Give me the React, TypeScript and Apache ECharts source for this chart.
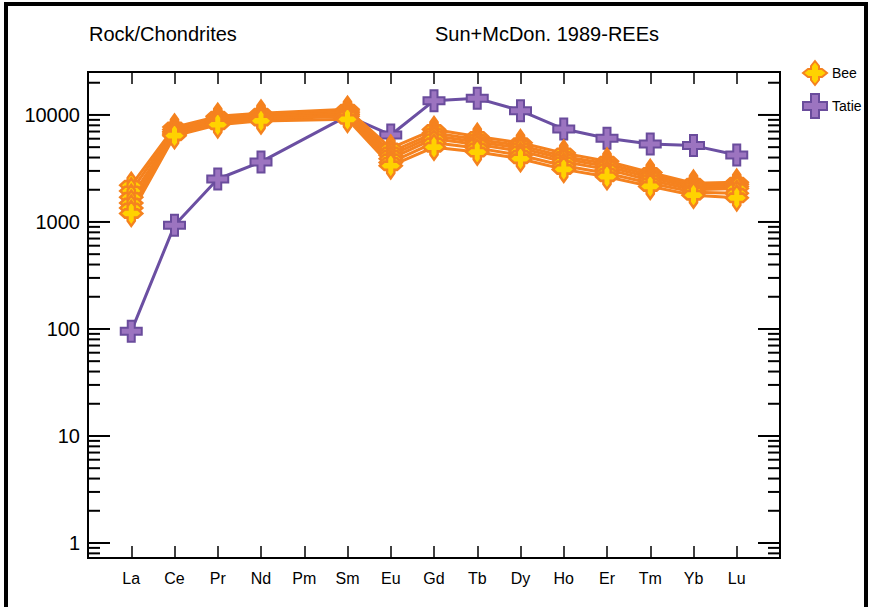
import React, { useEffect, useRef } from "react";
import * as echarts from "echarts";

const categories = ["La", "Ce", "Pr", "Nd", "Pm", "Sm", "Eu", "Gd", "Tb", "Dy", "Ho", "Er", "Tm", "Yb", "Lu"];

const tatie = [95, 930, 2520, 3640, null, 9800, 6500, 13600, 14300, 10970, 7390, 6050, 5350, 5170, 4230];

const bee1 = [2200, 7700, 9700, 10400, null, 11300, 4900, 7300, 6300, 5500, 4400, 3700, 2900, 2300, 2350];
const bee2 = [1950, 7300, 9300, 10000, null, 10900, 4500, 6800, 5900, 5200, 4100, 3500, 2750, 2200, 2250];
const bee3 = [1700, 7000, 9000, 9700, null, 10500, 4200, 6400, 5600, 4900, 3900, 3300, 2600, 2100, 2150];
const bee4 = [1500, 6800, 8700, 9400, null, 10100, 3900, 6000, 5300, 4600, 3650, 3100, 2450, 2000, 2050];
const bee5 = [1350, 6600, 8400, 9100, null, 9700, 3600, 5500, 4900, 4200, 3350, 2850, 2300, 1900, 1850];
const bee6 = [1200, 6400, 8100, 8800, null, 9100, 3350, 5000, 4500, 3900, 3100, 2650, 2150, 1780, 1680];
const beeSamples = [bee1, bee2, bee3, bee4, bee5, bee6];

const yMin = 0.724;
const yMax = 25200;

const BEE_PATH = "path://M12 0 L16 5 L16 8 L19 8 L24 12 L19 16 L16 16 L16 19 L12 24 L8 19 L8 16 L5 16 L0 12 L5 8 L8 8 L8 5 Z";
const TATIE_PATH = "path://M8 0 H16 V8 H24 V16 H16 V24 H8 V16 H0 V8 H8 Z";

const ORANGE = "#F5821F";
const YELLOW = "#FFD200";
const PURPLE_LINE = "#6B4FA2";
const PURPLE_FILL = "#9C74C0";
const PURPLE_BORDER = "#6A4C9C";
const FONT = "'Liberation Sans', Arial, Helvetica, sans-serif";

function buildTickValues(): number[] {
  const vals: number[] = [0.8, 0.9];
  for (let e = 0; e <= 4; e++) {
    for (let m = 1; m <= 9; m++) {
      const v = m * Math.pow(10, e);
      if (v <= yMax) vals.push(v);
    }
  }
  return vals;
}

export default function App() {
  const ref = useRef<HTMLDivElement>(null);

  useEffect(() => {
    if (!ref.current) return;
    const chart = echarts.init(ref.current, undefined, { renderer: "svg" });
    const xData = ["", ...categories, ""];
    const pad = (arr: (number | null)[]) => ["-", ...arr.map((v) => (v == null ? "-" : v)), "-"];

    const tickValues = buildTickValues();

    const series: any[] = [];
    series.push({
      type: "custom",
      name: "yticks",
      silent: true,
      xAxisIndex: 0,
      yAxisIndex: 0,
      data: tickValues.map((v) => [0, v]),
      z: 10,
      renderItem: (params: any, api: any) => {
        const v = api.value(1);
        const y = api.coord([0, v])[1];
        const cs = params.coordSys;
        const lg = Math.log10(v);
        const major = Math.abs(lg - Math.round(lg)) < 1e-9;
        const len = major ? 22 : 12;
        return {
          type: "group",
          children: [
            { type: "line", shape: { x1: cs.x, y1: y, x2: cs.x + len, y2: y }, style: { stroke: "#000", lineWidth: 2 } },
            { type: "line", shape: { x1: cs.x + cs.width - len, y1: y, x2: cs.x + cs.width, y2: y }, style: { stroke: "#000", lineWidth: 2 } },
          ],
        };
      },
    });
    series.push({
      type: "line",
      name: "Tatie",
      data: pad(tatie),
      connectNulls: true,
      symbol: TATIE_PATH,
      symbolSize: 21,
      lineStyle: { color: PURPLE_LINE, width: 3 },
      itemStyle: { color: PURPLE_FILL, borderColor: PURPLE_BORDER, borderWidth: 2 },
      z: 2,
    });
    beeSamples.forEach((s) => {
      series.push({
        type: "line",
        name: "Bee",
        data: pad(s),
        connectNulls: true,
        symbol: BEE_PATH,
        symbolSize: [22, 25],
        lineStyle: { color: ORANGE, width: 3 },
        itemStyle: { color: YELLOW, borderColor: ORANGE, borderWidth: 2.5 },
        z: 3,
      });
    });

    const xAxisCommon = {
      type: "category",
      data: xData,
      boundaryGap: false,
      axisLine: { show: true, lineStyle: { color: "#000", width: 2 } },
      axisTick: { show: true, inside: true, length: 12, interval: 0, lineStyle: { color: "#000", width: 1.5 } },
      splitLine: { show: false },
    };

    const titleStyle = { fontSize: 20, fontWeight: "normal", color: "#000", fontFamily: FONT };

    chart.setOption({
      animation: false,
      backgroundColor: "#fff",
      title: [
        { text: "Rock/Chondrites", left: 89, top: 24, padding: 0, textStyle: titleStyle },
        { text: "Sun+McDon. 1989-REEs", left: 435, top: 24, padding: 0, textStyle: titleStyle },
      ],
      legend: {
        orient: "vertical",
        left: 797,
        top: 55,
        itemWidth: 24,
        itemHeight: 24,
        itemGap: 7,
        selectedMode: false,
        textStyle: { fontSize: 14, color: "#000", fontFamily: FONT },
        data: [
          { name: "Bee", icon: BEE_PATH, itemStyle: { color: YELLOW, borderColor: ORANGE, borderWidth: 2 } },
          { name: "Tatie", icon: TATIE_PATH, itemStyle: { color: PURPLE_FILL, borderColor: PURPLE_BORDER, borderWidth: 2 } },
        ],
      },
      grid: { left: 88, right: 92, top: 72, bottom: 49, show: true, borderColor: "#000", borderWidth: 2, backgroundColor: "transparent" },
      xAxis: [
        {
          ...xAxisCommon,
          position: "bottom",
          axisLabel: { show: true, interval: 0, margin: 12, fontSize: 16, color: "#000", fontFamily: FONT },
        },
        {
          ...xAxisCommon,
          position: "top",
          axisLabel: { show: false },
        },
      ],
      yAxis: {
        type: "log",
        logBase: 10,
        min: yMin,
        max: yMax,
        axisLine: { show: true, lineStyle: { color: "#000", width: 2 } },
        axisTick: { show: false },
        splitLine: { show: false },
        axisLabel: {
          show: true,
          margin: 8,
          fontSize: 20,
          color: "#000",
          fontFamily: FONT,
          showMinLabel: false,
          showMaxLabel: false,
          formatter: (v: number) => String(Math.round(v)),
        },
      },
      graphic: [
        {
          type: "polyline",
          shape: { points: [[6, 607], [6, 4], [866, 4], [866, 607]] },
          style: { stroke: "#000", lineWidth: 4, fill: "none" },
          silent: true,
        },
      ],
      series,
    });
    return () => chart.dispose();
  }, []);

  return <div ref={ref} style={{ position: "fixed", left: 0, top: 0, width: 872, height: 607 }} />;
}
